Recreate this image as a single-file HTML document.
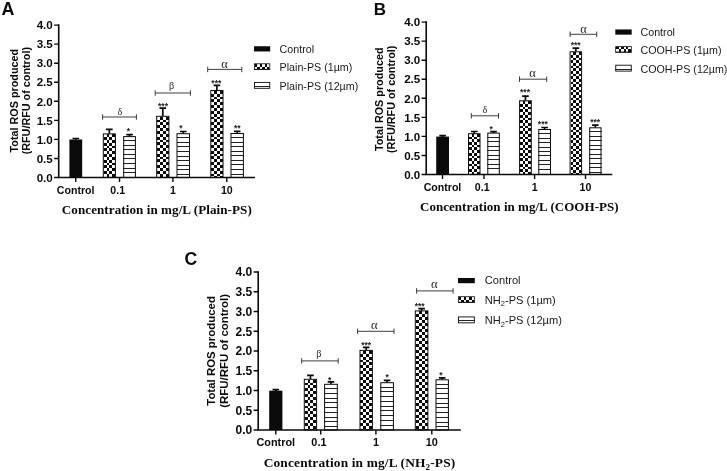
<!DOCTYPE html>
<html><head><meta charset="utf-8"><title>ROS figure</title>
<style>html,body{margin:0;padding:0;background:#fff;}svg{display:block;will-change:transform;}</style></head>
<body>
<svg width="727" height="471" viewBox="0 0 727 471">
<rect width="727" height="471" fill="#fff"/>
<g transform="translate(0 0.4)">
<rect x="69.40" y="139.10" width="12.80" height="38.00" fill="#0a0a0a"/>
<path d="M75.80 139.40V138.10M72.50 138.10H79.10" stroke="#0a0a0a" stroke-width="1.7" fill="none"/>
<rect x="102.80" y="133.00" width="13.10" height="44.10" fill="#fff"/>
<path d="M106.53 133.90H109.35V136.72H106.53ZM112.18 133.90H115.00V136.72H112.18ZM103.70 136.72H106.53V139.55H103.70ZM109.35 136.72H112.18V139.55H109.35ZM106.53 139.55H109.35V142.38H106.53ZM112.18 139.55H115.00V142.38H112.18ZM103.70 142.38H106.53V145.20H103.70ZM109.35 142.38H112.18V145.20H109.35ZM106.53 145.20H109.35V148.03H106.53ZM112.18 145.20H115.00V148.03H112.18ZM103.70 148.03H106.53V150.85H103.70ZM109.35 148.03H112.18V150.85H109.35ZM106.53 150.85H109.35V153.68H106.53ZM112.18 150.85H115.00V153.68H112.18ZM103.70 153.68H106.53V156.50H103.70ZM109.35 153.68H112.18V156.50H109.35ZM106.53 156.50H109.35V159.33H106.53ZM112.18 156.50H115.00V159.33H112.18ZM103.70 159.33H106.53V162.15H103.70ZM109.35 159.33H112.18V162.15H109.35ZM106.53 162.15H109.35V164.98H106.53ZM112.18 162.15H115.00V164.98H112.18ZM103.70 164.98H106.53V167.80H103.70ZM109.35 164.98H112.18V167.80H109.35ZM106.53 167.80H109.35V170.62H106.53ZM112.18 167.80H115.00V170.62H112.18ZM103.70 170.63H106.53V173.45H103.70ZM109.35 170.63H112.18V173.45H109.35ZM106.53 173.45H109.35V176.28H106.53ZM112.18 173.45H115.00V176.28H112.18ZM103.70 176.28H106.53V177.10H103.70ZM109.35 176.28H112.18V177.10H109.35Z" fill="#0a0a0a" shape-rendering="crispEdges"/>
<rect x="103.30" y="133.50" width="12.10" height="43.60" fill="none" stroke="#0a0a0a" stroke-width="1.0"/>
<path d="M109.35 133.30V129.00M106.05 129.00H112.65" stroke="#0a0a0a" stroke-width="1.7" fill="none"/>
<rect x="123.70" y="136.20" width="11.70" height="40.90" fill="#fff" stroke="#0a0a0a" stroke-width="1.0"/>
<path d="M123.20 140.35H135.90M123.20 144.90H135.90M123.20 149.45H135.90M123.20 154.00H135.90M123.20 158.55H135.90M123.20 163.10H135.90M123.20 167.65H135.90M123.20 172.20H135.90" stroke="#222" stroke-width="1.0" fill="none" shape-rendering="crispEdges"/>
<path d="M129.55 136.00V134.30M126.25 134.30H132.85" stroke="#0a0a0a" stroke-width="1.7" fill="none"/>
<rect x="156.20" y="115.40" width="13.20" height="61.70" fill="#fff"/>
<path d="M159.95 116.30H162.80V119.15H159.95ZM165.65 116.30H168.50V119.15H165.65ZM157.10 119.15H159.95V122.00H157.10ZM162.80 119.15H165.65V122.00H162.80ZM159.95 122.00H162.80V124.85H159.95ZM165.65 122.00H168.50V124.85H165.65ZM157.10 124.85H159.95V127.70H157.10ZM162.80 124.85H165.65V127.70H162.80ZM159.95 127.70H162.80V130.55H159.95ZM165.65 127.70H168.50V130.55H165.65ZM157.10 130.55H159.95V133.40H157.10ZM162.80 130.55H165.65V133.40H162.80ZM159.95 133.40H162.80V136.25H159.95ZM165.65 133.40H168.50V136.25H165.65ZM157.10 136.25H159.95V139.10H157.10ZM162.80 136.25H165.65V139.10H162.80ZM159.95 139.10H162.80V141.95H159.95ZM165.65 139.10H168.50V141.95H165.65ZM157.10 141.95H159.95V144.80H157.10ZM162.80 141.95H165.65V144.80H162.80ZM159.95 144.80H162.80V147.65H159.95ZM165.65 144.80H168.50V147.65H165.65ZM157.10 147.65H159.95V150.50H157.10ZM162.80 147.65H165.65V150.50H162.80ZM159.95 150.50H162.80V153.35H159.95ZM165.65 150.50H168.50V153.35H165.65ZM157.10 153.35H159.95V156.20H157.10ZM162.80 153.35H165.65V156.20H162.80ZM159.95 156.20H162.80V159.05H159.95ZM165.65 156.20H168.50V159.05H165.65ZM157.10 159.05H159.95V161.90H157.10ZM162.80 159.05H165.65V161.90H162.80ZM159.95 161.90H162.80V164.75H159.95ZM165.65 161.90H168.50V164.75H165.65ZM157.10 164.75H159.95V167.60H157.10ZM162.80 164.75H165.65V167.60H162.80ZM159.95 167.60H162.80V170.45H159.95ZM165.65 167.60H168.50V170.45H165.65ZM157.10 170.45H159.95V173.30H157.10ZM162.80 170.45H165.65V173.30H162.80ZM159.95 173.30H162.80V176.15H159.95ZM165.65 173.30H168.50V176.15H165.65ZM157.10 176.15H159.95V177.10H157.10ZM162.80 176.15H165.65V177.10H162.80Z" fill="#0a0a0a" shape-rendering="crispEdges"/>
<rect x="156.70" y="115.90" width="12.20" height="61.20" fill="none" stroke="#0a0a0a" stroke-width="1.0"/>
<path d="M162.80 115.70V107.80M159.50 107.80H166.10" stroke="#0a0a0a" stroke-width="1.7" fill="none"/>
<rect x="177.00" y="133.30" width="12.50" height="43.80" fill="#fff" stroke="#0a0a0a" stroke-width="1.0"/>
<path d="M176.50 137.45H190.00M176.50 142.00H190.00M176.50 146.55H190.00M176.50 151.10H190.00M176.50 155.65H190.00M176.50 160.20H190.00M176.50 164.75H190.00M176.50 169.30H190.00M176.50 173.85H190.00" stroke="#222" stroke-width="1.0" fill="none" shape-rendering="crispEdges"/>
<path d="M183.25 133.10V131.10M179.95 131.10H186.55" stroke="#0a0a0a" stroke-width="1.7" fill="none"/>
<rect x="210.30" y="89.60" width="13.20" height="87.50" fill="#fff"/>
<path d="M214.05 90.50H216.90V93.35H214.05ZM219.75 90.50H222.60V93.35H219.75ZM211.20 93.35H214.05V96.20H211.20ZM216.90 93.35H219.75V96.20H216.90ZM214.05 96.20H216.90V99.05H214.05ZM219.75 96.20H222.60V99.05H219.75ZM211.20 99.05H214.05V101.90H211.20ZM216.90 99.05H219.75V101.90H216.90ZM214.05 101.90H216.90V104.75H214.05ZM219.75 101.90H222.60V104.75H219.75ZM211.20 104.75H214.05V107.60H211.20ZM216.90 104.75H219.75V107.60H216.90ZM214.05 107.60H216.90V110.45H214.05ZM219.75 107.60H222.60V110.45H219.75ZM211.20 110.45H214.05V113.30H211.20ZM216.90 110.45H219.75V113.30H216.90ZM214.05 113.30H216.90V116.15H214.05ZM219.75 113.30H222.60V116.15H219.75ZM211.20 116.15H214.05V119.00H211.20ZM216.90 116.15H219.75V119.00H216.90ZM214.05 119.00H216.90V121.85H214.05ZM219.75 119.00H222.60V121.85H219.75ZM211.20 121.85H214.05V124.70H211.20ZM216.90 121.85H219.75V124.70H216.90ZM214.05 124.70H216.90V127.55H214.05ZM219.75 124.70H222.60V127.55H219.75ZM211.20 127.55H214.05V130.40H211.20ZM216.90 127.55H219.75V130.40H216.90ZM214.05 130.40H216.90V133.25H214.05ZM219.75 130.40H222.60V133.25H219.75ZM211.20 133.25H214.05V136.10H211.20ZM216.90 133.25H219.75V136.10H216.90ZM214.05 136.10H216.90V138.95H214.05ZM219.75 136.10H222.60V138.95H219.75ZM211.20 138.95H214.05V141.80H211.20ZM216.90 138.95H219.75V141.80H216.90ZM214.05 141.80H216.90V144.65H214.05ZM219.75 141.80H222.60V144.65H219.75ZM211.20 144.65H214.05V147.50H211.20ZM216.90 144.65H219.75V147.50H216.90ZM214.05 147.50H216.90V150.35H214.05ZM219.75 147.50H222.60V150.35H219.75ZM211.20 150.35H214.05V153.20H211.20ZM216.90 150.35H219.75V153.20H216.90ZM214.05 153.20H216.90V156.05H214.05ZM219.75 153.20H222.60V156.05H219.75ZM211.20 156.05H214.05V158.90H211.20ZM216.90 156.05H219.75V158.90H216.90ZM214.05 158.90H216.90V161.75H214.05ZM219.75 158.90H222.60V161.75H219.75ZM211.20 161.75H214.05V164.60H211.20ZM216.90 161.75H219.75V164.60H216.90ZM214.05 164.60H216.90V167.45H214.05ZM219.75 164.60H222.60V167.45H219.75ZM211.20 167.45H214.05V170.30H211.20ZM216.90 167.45H219.75V170.30H216.90ZM214.05 170.30H216.90V173.15H214.05ZM219.75 170.30H222.60V173.15H219.75ZM211.20 173.15H214.05V176.00H211.20ZM216.90 173.15H219.75V176.00H216.90ZM214.05 176.00H216.90V177.10H214.05ZM219.75 176.00H222.60V177.10H219.75Z" fill="#0a0a0a" shape-rendering="crispEdges"/>
<rect x="210.80" y="90.10" width="12.20" height="87.00" fill="none" stroke="#0a0a0a" stroke-width="1.0"/>
<path d="M216.90 89.90V85.00M213.60 85.00H220.20" stroke="#0a0a0a" stroke-width="1.7" fill="none"/>
<rect x="231.00" y="133.10" width="12.40" height="44.00" fill="#fff" stroke="#0a0a0a" stroke-width="1.0"/>
<path d="M230.50 137.25H243.90M230.50 141.80H243.90M230.50 146.35H243.90M230.50 150.90H243.90M230.50 155.45H243.90M230.50 160.00H243.90M230.50 164.55H243.90M230.50 169.10H243.90M230.50 173.65H243.90" stroke="#222" stroke-width="1.0" fill="none" shape-rendering="crispEdges"/>
<path d="M237.20 132.90V130.90M233.90 130.90H240.50" stroke="#0a0a0a" stroke-width="1.7" fill="none"/>
<path d="M58.70 23.90V177.90M57.90 177.10H255.00" stroke="#0a0a0a" stroke-width="1.6" fill="none"/>
<path d="M54.10 177.10H58.70M54.10 158.05H58.70M54.10 139.00H58.70M54.10 119.95H58.70M54.10 100.90H58.70M54.10 81.85H58.70M54.10 62.80H58.70M54.10 43.75H58.70M54.10 24.70H58.70M75.70 177.10V181.50M119.50 177.10V181.50M172.90 177.10V181.50M226.80 177.10V181.50" stroke="#0a0a0a" stroke-width="1.4" fill="none"/>
<text x="52.80" y="181.33" font-family='"Liberation Sans", sans-serif' font-size="11.6" font-weight="bold" text-anchor="end" fill="#0a0a0a" >0.0</text>
<text x="52.80" y="162.28" font-family='"Liberation Sans", sans-serif' font-size="11.6" font-weight="bold" text-anchor="end" fill="#0a0a0a" >0.5</text>
<text x="52.80" y="143.23" font-family='"Liberation Sans", sans-serif' font-size="11.6" font-weight="bold" text-anchor="end" fill="#0a0a0a" >1.0</text>
<text x="52.80" y="124.18" font-family='"Liberation Sans", sans-serif' font-size="11.6" font-weight="bold" text-anchor="end" fill="#0a0a0a" >1.5</text>
<text x="52.80" y="105.13" font-family='"Liberation Sans", sans-serif' font-size="11.6" font-weight="bold" text-anchor="end" fill="#0a0a0a" >2.0</text>
<text x="52.80" y="86.08" font-family='"Liberation Sans", sans-serif' font-size="11.6" font-weight="bold" text-anchor="end" fill="#0a0a0a" >2.5</text>
<text x="52.80" y="67.03" font-family='"Liberation Sans", sans-serif' font-size="11.6" font-weight="bold" text-anchor="end" fill="#0a0a0a" >3.0</text>
<text x="52.80" y="47.98" font-family='"Liberation Sans", sans-serif' font-size="11.6" font-weight="bold" text-anchor="end" fill="#0a0a0a" >3.5</text>
<text x="52.80" y="28.93" font-family='"Liberation Sans", sans-serif' font-size="11.6" font-weight="bold" text-anchor="end" fill="#0a0a0a" >4.0</text>
<text x="75.70" y="193.30" font-family='"Liberation Sans", sans-serif' font-size="10.6" font-weight="bold" text-anchor="middle" fill="#0a0a0a" >Control</text>
<text x="117.70" y="193.30" font-family='"Liberation Sans", sans-serif' font-size="10.6" font-weight="bold" text-anchor="middle" fill="#0a0a0a" >0.1</text>
<text x="172.90" y="193.30" font-family='"Liberation Sans", sans-serif' font-size="10.6" font-weight="bold" text-anchor="middle" fill="#0a0a0a" >1</text>
<text x="226.80" y="193.30" font-family='"Liberation Sans", sans-serif' font-size="10.6" font-weight="bold" text-anchor="middle" fill="#0a0a0a" >10</text>
<text x="128.30" y="134.00" font-family='"Liberation Sans", sans-serif' font-size="8.5" font-weight="bold" text-anchor="middle" fill="#222" >*</text>
<text x="163.00" y="108.20" font-family='"Liberation Sans", sans-serif' font-size="8.5" font-weight="bold" text-anchor="middle" fill="#222" >***</text>
<text x="180.80" y="130.80" font-family='"Liberation Sans", sans-serif' font-size="8.5" font-weight="bold" text-anchor="middle" fill="#222" >*</text>
<text x="216.30" y="85.50" font-family='"Liberation Sans", sans-serif' font-size="8.5" font-weight="bold" text-anchor="middle" fill="#222" >***</text>
<text x="237.20" y="130.40" font-family='"Liberation Sans", sans-serif' font-size="8.5" font-weight="bold" text-anchor="middle" fill="#222" >**</text>
<path d="M102.60 116.60H136.40M102.60 113.85V119.35M136.40 113.85V119.35" stroke="#2a2a2a" stroke-width="0.9" fill="none"/>
<text x="119.80" y="114.40" font-family='"Liberation Serif", serif' font-size="10.2" text-anchor="middle" fill="#2a2a2a">δ</text>
<path d="M155.20 92.60H190.40M155.20 89.85V95.35M190.40 89.85V95.35" stroke="#2a2a2a" stroke-width="0.9" fill="none"/>
<text x="171.50" y="88.80" font-family='"Liberation Serif", serif' font-size="10.2" text-anchor="middle" fill="#2a2a2a">β</text>
<path d="M207.70 69.00H241.80M207.70 66.25V71.75M241.80 66.25V71.75" stroke="#2a2a2a" stroke-width="0.9" fill="none"/>
<text x="224.60" y="67.50" font-family='"Liberation Serif", serif' font-size="12.4" text-anchor="middle" fill="#2a2a2a">α</text>
<text transform="translate(18.00 100.30) rotate(-90)" font-family='"Liberation Sans", sans-serif' font-size="10.8" font-weight="bold" text-anchor="middle" fill="#0a0a0a">Total ROS produced</text>
<text transform="translate(29.80 100.30) rotate(-90)" font-family='"Liberation Sans", sans-serif' font-size="10.8" font-weight="bold" text-anchor="middle" fill="#0a0a0a">(RFU/RFU of control)</text>
<text x="61.80" y="213.90" font-family='"Liberation Serif", serif' font-size="13.1" font-weight="bold" text-anchor="start" fill="#0a0a0a" textLength="190.0" lengthAdjust="spacing">Concentration in mg/L (Plain-PS)</text>
<text x="1.50" y="14.50" font-family='"Liberation Sans", sans-serif' font-size="17.8" font-weight="bold" text-anchor="start" fill="#0a0a0a" >A</text>
<rect x="254.00" y="45.85" width="16.20" height="5.2" fill="#0a0a0a"/>
<rect x="254.00" y="63.00" width="16.20" height="6.00" fill="#fff"/>
<path d="M254.72 63.72H257.18V66.18H254.72ZM259.64 63.72H262.10V66.18H259.64ZM264.56 63.72H267.02V66.18H264.56ZM257.18 66.18H259.64V68.64H257.18ZM262.10 66.18H264.56V68.64H262.10ZM267.02 66.18H269.48V68.64H267.02ZM254.72 68.64H257.18V69.00H254.72ZM259.64 68.64H262.10V69.00H259.64ZM264.56 68.64H267.02V69.00H264.56Z" fill="#0a0a0a" shape-rendering="crispEdges"/>
<rect x="254.40" y="63.40" width="15.40" height="5.60" fill="none" stroke="#0a0a0a" stroke-width="0.8"/>
<path d="M254.00 69.00H270.20" stroke="#0a0a0a" stroke-width="0.8"/>
<rect x="254.45" y="82.00" width="15.30" height="5.9" fill="#fff" stroke="#0a0a0a" stroke-width="0.9"/>
<path d="M254.00 85.90H270.20" stroke="#222" stroke-width="1" shape-rendering="crispEdges"/>
<text x="279.60" y="52.20" font-family='"Liberation Sans", sans-serif' font-size="10.7" text-anchor="start" fill="#1a1a1a">Control</text>
<text x="279.60" y="70.60" font-family='"Liberation Sans", sans-serif' font-size="10.7" text-anchor="start" fill="#1a1a1a">Plain-PS (1µm)</text>
<text x="279.60" y="89.40" font-family='"Liberation Sans", sans-serif' font-size="10.7" text-anchor="start" fill="#1a1a1a">Plain-PS (12µm)</text>
</g>
<g transform="translate(0 0.3)">
<rect x="436.20" y="136.30" width="12.80" height="37.90" fill="#0a0a0a"/>
<path d="M442.60 136.60V135.30M439.30 135.30H445.90" stroke="#0a0a0a" stroke-width="1.7" fill="none"/>
<rect x="468.00" y="132.90" width="12.50" height="41.30" fill="#fff"/>
<path d="M471.57 133.80H474.25V136.48H471.57ZM476.92 133.80H479.60V136.48H476.92ZM468.90 136.48H471.57V139.15H468.90ZM474.25 136.48H476.93V139.15H474.25ZM471.57 139.15H474.25V141.83H471.57ZM476.92 139.15H479.60V141.83H476.92ZM468.90 141.83H471.57V144.50H468.90ZM474.25 141.83H476.93V144.50H474.25ZM471.57 144.50H474.25V147.18H471.57ZM476.92 144.50H479.60V147.18H476.92ZM468.90 147.18H471.57V149.85H468.90ZM474.25 147.18H476.93V149.85H474.25ZM471.57 149.85H474.25V152.53H471.57ZM476.92 149.85H479.60V152.53H476.92ZM468.90 152.53H471.57V155.20H468.90ZM474.25 152.53H476.93V155.20H474.25ZM471.57 155.20H474.25V157.88H471.57ZM476.92 155.20H479.60V157.88H476.92ZM468.90 157.88H471.57V160.55H468.90ZM474.25 157.88H476.93V160.55H474.25ZM471.57 160.55H474.25V163.23H471.57ZM476.92 160.55H479.60V163.23H476.92ZM468.90 163.23H471.57V165.90H468.90ZM474.25 163.23H476.93V165.90H474.25ZM471.57 165.90H474.25V168.58H471.57ZM476.92 165.90H479.60V168.58H476.92ZM468.90 168.58H471.57V171.25H468.90ZM474.25 168.58H476.93V171.25H474.25ZM471.57 171.25H474.25V173.93H471.57ZM476.92 171.25H479.60V173.93H476.92ZM468.90 173.93H471.57V174.20H468.90ZM474.25 173.93H476.93V174.20H474.25Z" fill="#0a0a0a" shape-rendering="crispEdges"/>
<rect x="468.50" y="133.40" width="11.50" height="40.80" fill="none" stroke="#0a0a0a" stroke-width="1.0"/>
<path d="M474.25 133.20V131.20M470.95 131.20H477.55" stroke="#0a0a0a" stroke-width="1.7" fill="none"/>
<rect x="487.80" y="132.80" width="11.50" height="41.40" fill="#fff" stroke="#0a0a0a" stroke-width="1.0"/>
<path d="M487.30 136.88H499.80M487.30 141.36H499.80M487.30 145.84H499.80M487.30 150.32H499.80M487.30 154.80H499.80M487.30 159.28H499.80M487.30 163.76H499.80M487.30 168.24H499.80" stroke="#222" stroke-width="1.0" fill="none" shape-rendering="crispEdges"/>
<path d="M493.55 132.60V131.40M490.25 131.40H496.85" stroke="#0a0a0a" stroke-width="1.7" fill="none"/>
<rect x="519.10" y="100.00" width="12.70" height="74.20" fill="#fff"/>
<path d="M522.73 100.90H525.45V103.62H522.73ZM528.17 100.90H530.90V103.62H528.17ZM520.00 103.62H522.73V106.35H520.00ZM525.45 103.62H528.17V106.35H525.45ZM522.73 106.35H525.45V109.07H522.73ZM528.17 106.35H530.90V109.07H528.17ZM520.00 109.07H522.73V111.80H520.00ZM525.45 109.07H528.17V111.80H525.45ZM522.73 111.80H525.45V114.52H522.73ZM528.17 111.80H530.90V114.52H528.17ZM520.00 114.52H522.73V117.25H520.00ZM525.45 114.52H528.17V117.25H525.45ZM522.73 117.25H525.45V119.97H522.73ZM528.17 117.25H530.90V119.97H528.17ZM520.00 119.97H522.73V122.70H520.00ZM525.45 119.97H528.17V122.70H525.45ZM522.73 122.70H525.45V125.42H522.73ZM528.17 122.70H530.90V125.42H528.17ZM520.00 125.42H522.73V128.15H520.00ZM525.45 125.42H528.17V128.15H525.45ZM522.73 128.15H525.45V130.87H522.73ZM528.17 128.15H530.90V130.87H528.17ZM520.00 130.87H522.73V133.60H520.00ZM525.45 130.87H528.17V133.60H525.45ZM522.73 133.60H525.45V136.32H522.73ZM528.17 133.60H530.90V136.32H528.17ZM520.00 136.32H522.73V139.05H520.00ZM525.45 136.32H528.17V139.05H525.45ZM522.73 139.05H525.45V141.77H522.73ZM528.17 139.05H530.90V141.77H528.17ZM520.00 141.77H522.73V144.50H520.00ZM525.45 141.77H528.17V144.50H525.45ZM522.73 144.50H525.45V147.22H522.73ZM528.17 144.50H530.90V147.22H528.17ZM520.00 147.22H522.73V149.95H520.00ZM525.45 147.22H528.17V149.95H525.45ZM522.73 149.95H525.45V152.67H522.73ZM528.17 149.95H530.90V152.67H528.17ZM520.00 152.67H522.73V155.40H520.00ZM525.45 152.67H528.17V155.40H525.45ZM522.73 155.40H525.45V158.12H522.73ZM528.17 155.40H530.90V158.12H528.17ZM520.00 158.12H522.73V160.85H520.00ZM525.45 158.12H528.17V160.85H525.45ZM522.73 160.85H525.45V163.57H522.73ZM528.17 160.85H530.90V163.57H528.17ZM520.00 163.57H522.73V166.30H520.00ZM525.45 163.57H528.17V166.30H525.45ZM522.73 166.30H525.45V169.02H522.73ZM528.17 166.30H530.90V169.02H528.17ZM520.00 169.02H522.73V171.75H520.00ZM525.45 169.02H528.17V171.75H525.45ZM522.73 171.75H525.45V174.20H522.73ZM528.17 171.75H530.90V174.20H528.17Z" fill="#0a0a0a" shape-rendering="crispEdges"/>
<rect x="519.60" y="100.50" width="11.70" height="73.70" fill="none" stroke="#0a0a0a" stroke-width="1.0"/>
<path d="M525.45 100.30V95.90M522.15 95.90H528.75" stroke="#0a0a0a" stroke-width="1.7" fill="none"/>
<rect x="538.80" y="129.20" width="11.70" height="45.00" fill="#fff" stroke="#0a0a0a" stroke-width="1.0"/>
<path d="M538.30 133.28H551.00M538.30 137.76H551.00M538.30 142.24H551.00M538.30 146.72H551.00M538.30 151.20H551.00M538.30 155.68H551.00M538.30 160.16H551.00M538.30 164.64H551.00M538.30 169.12H551.00" stroke="#222" stroke-width="1.0" fill="none" shape-rendering="crispEdges"/>
<path d="M544.65 129.00V127.20M541.35 127.20H547.95" stroke="#0a0a0a" stroke-width="1.7" fill="none"/>
<rect x="569.60" y="51.00" width="12.50" height="123.20" fill="#fff"/>
<path d="M573.17 51.90H575.85V54.57H573.17ZM578.52 51.90H581.20V54.57H578.52ZM570.50 54.57H573.17V57.25H570.50ZM575.85 54.57H578.52V57.25H575.85ZM573.17 57.25H575.85V59.92H573.17ZM578.52 57.25H581.20V59.92H578.52ZM570.50 59.92H573.17V62.60H570.50ZM575.85 59.92H578.52V62.60H575.85ZM573.17 62.60H575.85V65.27H573.17ZM578.52 62.60H581.20V65.27H578.52ZM570.50 65.28H573.17V67.95H570.50ZM575.85 65.28H578.52V67.95H575.85ZM573.17 67.95H575.85V70.62H573.17ZM578.52 67.95H581.20V70.62H578.52ZM570.50 70.62H573.17V73.30H570.50ZM575.85 70.62H578.52V73.30H575.85ZM573.17 73.30H575.85V75.97H573.17ZM578.52 73.30H581.20V75.97H578.52ZM570.50 75.97H573.17V78.65H570.50ZM575.85 75.97H578.52V78.65H575.85ZM573.17 78.65H575.85V81.33H573.17ZM578.52 78.65H581.20V81.33H578.52ZM570.50 81.32H573.17V84.00H570.50ZM575.85 81.32H578.52V84.00H575.85ZM573.17 84.00H575.85V86.67H573.17ZM578.52 84.00H581.20V86.67H578.52ZM570.50 86.67H573.17V89.35H570.50ZM575.85 86.67H578.52V89.35H575.85ZM573.17 89.35H575.85V92.02H573.17ZM578.52 89.35H581.20V92.02H578.52ZM570.50 92.03H573.17V94.70H570.50ZM575.85 92.03H578.52V94.70H575.85ZM573.17 94.70H575.85V97.37H573.17ZM578.52 94.70H581.20V97.37H578.52ZM570.50 97.38H573.17V100.05H570.50ZM575.85 97.38H578.52V100.05H575.85ZM573.17 100.05H575.85V102.72H573.17ZM578.52 100.05H581.20V102.72H578.52ZM570.50 102.72H573.17V105.40H570.50ZM575.85 102.72H578.52V105.40H575.85ZM573.17 105.40H575.85V108.08H573.17ZM578.52 105.40H581.20V108.08H578.52ZM570.50 108.07H573.17V110.75H570.50ZM575.85 108.07H578.52V110.75H575.85ZM573.17 110.75H575.85V113.42H573.17ZM578.52 110.75H581.20V113.42H578.52ZM570.50 113.42H573.17V116.10H570.50ZM575.85 113.42H578.52V116.10H575.85ZM573.17 116.10H575.85V118.77H573.17ZM578.52 116.10H581.20V118.77H578.52ZM570.50 118.78H573.17V121.45H570.50ZM575.85 118.78H578.52V121.45H575.85ZM573.17 121.45H575.85V124.12H573.17ZM578.52 121.45H581.20V124.12H578.52ZM570.50 124.12H573.17V126.80H570.50ZM575.85 124.12H578.52V126.80H575.85ZM573.17 126.80H575.85V129.47H573.17ZM578.52 126.80H581.20V129.47H578.52ZM570.50 129.47H573.17V132.15H570.50ZM575.85 129.47H578.52V132.15H575.85ZM573.17 132.15H575.85V134.83H573.17ZM578.52 132.15H581.20V134.83H578.52ZM570.50 134.82H573.17V137.50H570.50ZM575.85 134.82H578.52V137.50H575.85ZM573.17 137.50H575.85V140.18H573.17ZM578.52 137.50H581.20V140.18H578.52ZM570.50 140.17H573.17V142.85H570.50ZM575.85 140.17H578.52V142.85H575.85ZM573.17 142.85H575.85V145.53H573.17ZM578.52 142.85H581.20V145.53H578.52ZM570.50 145.53H573.17V148.20H570.50ZM575.85 145.53H578.52V148.20H575.85ZM573.17 148.20H575.85V150.88H573.17ZM578.52 148.20H581.20V150.88H578.52ZM570.50 150.88H573.17V153.55H570.50ZM575.85 150.88H578.52V153.55H575.85ZM573.17 153.55H575.85V156.22H573.17ZM578.52 153.55H581.20V156.22H578.52ZM570.50 156.22H573.17V158.90H570.50ZM575.85 156.22H578.52V158.90H575.85ZM573.17 158.90H575.85V161.58H573.17ZM578.52 158.90H581.20V161.58H578.52ZM570.50 161.57H573.17V164.25H570.50ZM575.85 161.57H578.52V164.25H575.85ZM573.17 164.25H575.85V166.93H573.17ZM578.52 164.25H581.20V166.93H578.52ZM570.50 166.92H573.17V169.60H570.50ZM575.85 166.92H578.52V169.60H575.85ZM573.17 169.60H575.85V172.28H573.17ZM578.52 169.60H581.20V172.28H578.52ZM570.50 172.27H573.17V174.20H570.50ZM575.85 172.27H578.52V174.20H575.85Z" fill="#0a0a0a" shape-rendering="crispEdges"/>
<rect x="570.10" y="51.50" width="11.50" height="122.70" fill="none" stroke="#0a0a0a" stroke-width="1.0"/>
<path d="M575.85 51.30V47.80M572.55 47.80H579.15" stroke="#0a0a0a" stroke-width="1.7" fill="none"/>
<rect x="589.70" y="127.50" width="11.30" height="46.70" fill="#fff" stroke="#0a0a0a" stroke-width="1.0"/>
<path d="M589.20 131.58H601.50M589.20 136.06H601.50M589.20 140.54H601.50M589.20 145.02H601.50M589.20 149.50H601.50M589.20 153.98H601.50M589.20 158.46H601.50M589.20 162.94H601.50M589.20 167.42H601.50M589.20 171.90H601.50" stroke="#222" stroke-width="1.0" fill="none" shape-rendering="crispEdges"/>
<path d="M595.35 127.30V124.90M592.05 124.90H598.65" stroke="#0a0a0a" stroke-width="1.7" fill="none"/>
<path d="M426.20 21.00V175.00M425.40 174.20H612.30" stroke="#0a0a0a" stroke-width="1.6" fill="none"/>
<path d="M421.60 174.20H426.20M421.60 155.15H426.20M421.60 136.10H426.20M421.60 117.05H426.20M421.60 98.00H426.20M421.60 78.95H426.20M421.60 59.90H426.20M421.60 40.85H426.20M421.60 21.80H426.20M442.50 174.20V178.60M484.00 174.20V178.60M534.60 174.20V178.60M585.50 174.20V178.60" stroke="#0a0a0a" stroke-width="1.4" fill="none"/>
<text x="420.30" y="178.43" font-family='"Liberation Sans", sans-serif' font-size="11.6" font-weight="bold" text-anchor="end" fill="#0a0a0a" >0.0</text>
<text x="420.30" y="159.38" font-family='"Liberation Sans", sans-serif' font-size="11.6" font-weight="bold" text-anchor="end" fill="#0a0a0a" >0.5</text>
<text x="420.30" y="140.33" font-family='"Liberation Sans", sans-serif' font-size="11.6" font-weight="bold" text-anchor="end" fill="#0a0a0a" >1.0</text>
<text x="420.30" y="121.28" font-family='"Liberation Sans", sans-serif' font-size="11.6" font-weight="bold" text-anchor="end" fill="#0a0a0a" >1.5</text>
<text x="420.30" y="102.23" font-family='"Liberation Sans", sans-serif' font-size="11.6" font-weight="bold" text-anchor="end" fill="#0a0a0a" >2.0</text>
<text x="420.30" y="83.18" font-family='"Liberation Sans", sans-serif' font-size="11.6" font-weight="bold" text-anchor="end" fill="#0a0a0a" >2.5</text>
<text x="420.30" y="64.13" font-family='"Liberation Sans", sans-serif' font-size="11.6" font-weight="bold" text-anchor="end" fill="#0a0a0a" >3.0</text>
<text x="420.30" y="45.08" font-family='"Liberation Sans", sans-serif' font-size="11.6" font-weight="bold" text-anchor="end" fill="#0a0a0a" >3.5</text>
<text x="420.30" y="26.03" font-family='"Liberation Sans", sans-serif' font-size="11.6" font-weight="bold" text-anchor="end" fill="#0a0a0a" >4.0</text>
<text x="442.50" y="190.40" font-family='"Liberation Sans", sans-serif' font-size="10.6" font-weight="bold" text-anchor="middle" fill="#0a0a0a" >Control</text>
<text x="482.20" y="190.40" font-family='"Liberation Sans", sans-serif' font-size="10.6" font-weight="bold" text-anchor="middle" fill="#0a0a0a" >0.1</text>
<text x="534.60" y="190.40" font-family='"Liberation Sans", sans-serif' font-size="10.6" font-weight="bold" text-anchor="middle" fill="#0a0a0a" >1</text>
<text x="585.50" y="190.40" font-family='"Liberation Sans", sans-serif' font-size="10.6" font-weight="bold" text-anchor="middle" fill="#0a0a0a" >10</text>
<text x="491.20" y="131.90" font-family='"Liberation Sans", sans-serif' font-size="8.5" font-weight="bold" text-anchor="middle" fill="#222" >*</text>
<text x="525.00" y="94.70" font-family='"Liberation Sans", sans-serif' font-size="8.5" font-weight="bold" text-anchor="middle" fill="#222" >***</text>
<text x="542.80" y="126.80" font-family='"Liberation Sans", sans-serif' font-size="8.5" font-weight="bold" text-anchor="middle" fill="#222" >***</text>
<text x="575.60" y="47.30" font-family='"Liberation Sans", sans-serif' font-size="8.5" font-weight="bold" text-anchor="middle" fill="#222" >***</text>
<text x="595.20" y="124.70" font-family='"Liberation Sans", sans-serif' font-size="8.5" font-weight="bold" text-anchor="middle" fill="#222" >***</text>
<path d="M471.30 115.50H498.50M471.30 112.75V118.25M498.50 112.75V118.25" stroke="#2a2a2a" stroke-width="0.9" fill="none"/>
<text x="484.90" y="112.50" font-family='"Liberation Serif", serif' font-size="10.2" text-anchor="middle" fill="#2a2a2a">δ</text>
<path d="M519.50 78.90H546.70M519.50 76.15V81.65M546.70 76.15V81.65" stroke="#2a2a2a" stroke-width="0.9" fill="none"/>
<text x="532.50" y="77.00" font-family='"Liberation Serif", serif' font-size="12.4" text-anchor="middle" fill="#2a2a2a">α</text>
<path d="M570.10 34.00H596.70M570.10 31.25V36.75M596.70 31.25V36.75" stroke="#2a2a2a" stroke-width="0.9" fill="none"/>
<text x="583.40" y="32.30" font-family='"Liberation Serif", serif' font-size="12.4" text-anchor="middle" fill="#2a2a2a">α</text>
<text transform="translate(382.80 99.00) rotate(-90)" font-family='"Liberation Sans", sans-serif' font-size="10.8" font-weight="bold" text-anchor="middle" fill="#0a0a0a">Total ROS produced</text>
<text transform="translate(395.00 99.00) rotate(-90)" font-family='"Liberation Sans", sans-serif' font-size="10.8" font-weight="bold" text-anchor="middle" fill="#0a0a0a">(RFU/RFU of control)</text>
<text x="420.00" y="211.00" font-family='"Liberation Serif", serif' font-size="13.0" font-weight="bold" text-anchor="start" fill="#0a0a0a" textLength="198.6" lengthAdjust="spacing">Concentration in mg/L (COOH-PS)</text>
<text x="373.70" y="14.90" font-family='"Liberation Sans", sans-serif' font-size="17.0" font-weight="bold" text-anchor="start" fill="#0a0a0a" >B</text>
<rect x="615.30" y="29.15" width="16.40" height="5.2" fill="#0a0a0a"/>
<rect x="615.30" y="45.90" width="16.40" height="6.00" fill="#fff"/>
<path d="M616.02 46.62H618.51V49.11H616.02ZM621.01 46.62H623.50V49.11H621.01ZM625.99 46.62H628.49V49.11H625.99ZM618.51 49.11H621.01V51.61H618.51ZM623.50 49.11H625.99V51.61H623.50ZM628.49 49.11H630.98V51.61H628.49ZM616.02 51.61H618.51V51.90H616.02ZM621.01 51.61H623.50V51.90H621.01ZM625.99 51.61H628.49V51.90H625.99Z" fill="#0a0a0a" shape-rendering="crispEdges"/>
<rect x="615.70" y="46.30" width="15.60" height="5.60" fill="none" stroke="#0a0a0a" stroke-width="0.8"/>
<path d="M615.30 51.90H631.70" stroke="#0a0a0a" stroke-width="0.8"/>
<rect x="615.75" y="64.90" width="15.50" height="5.9" fill="#fff" stroke="#0a0a0a" stroke-width="0.9"/>
<path d="M615.30 68.80H631.70" stroke="#222" stroke-width="1" shape-rendering="crispEdges"/>
<text x="640.50" y="35.50" font-family='"Liberation Sans", sans-serif' font-size="10.7" text-anchor="start" fill="#1a1a1a">Control</text>
<text x="640.50" y="53.50" font-family='"Liberation Sans", sans-serif' font-size="10.7" text-anchor="start" fill="#1a1a1a">COOH-PS (1µm)</text>
<text x="640.50" y="72.30" font-family='"Liberation Sans", sans-serif' font-size="10.7" text-anchor="start" fill="#1a1a1a">COOH-PS (12µm)</text>
</g>
<g transform="translate(0 0.3)">
<rect x="269.20" y="390.40" width="13.20" height="39.30" fill="#0a0a0a"/>
<path d="M275.80 390.70V389.30M272.50 389.30H279.10" stroke="#0a0a0a" stroke-width="1.7" fill="none"/>
<rect x="303.80" y="378.50" width="13.30" height="51.20" fill="#fff"/>
<path d="M307.57 379.40H310.45V382.27H307.57ZM313.32 379.40H316.20V382.27H313.32ZM304.70 382.27H307.57V385.15H304.70ZM310.45 382.27H313.32V385.15H310.45ZM307.57 385.15H310.45V388.02H307.57ZM313.32 385.15H316.20V388.02H313.32ZM304.70 388.02H307.57V390.90H304.70ZM310.45 388.02H313.32V390.90H310.45ZM307.57 390.90H310.45V393.77H307.57ZM313.32 390.90H316.20V393.77H313.32ZM304.70 393.77H307.57V396.65H304.70ZM310.45 393.77H313.32V396.65H310.45ZM307.57 396.65H310.45V399.52H307.57ZM313.32 396.65H316.20V399.52H313.32ZM304.70 399.52H307.57V402.40H304.70ZM310.45 399.52H313.32V402.40H310.45ZM307.57 402.40H310.45V405.27H307.57ZM313.32 402.40H316.20V405.27H313.32ZM304.70 405.27H307.57V408.15H304.70ZM310.45 405.27H313.32V408.15H310.45ZM307.57 408.15H310.45V411.02H307.57ZM313.32 408.15H316.20V411.02H313.32ZM304.70 411.02H307.57V413.90H304.70ZM310.45 411.02H313.32V413.90H310.45ZM307.57 413.90H310.45V416.77H307.57ZM313.32 413.90H316.20V416.77H313.32ZM304.70 416.78H307.57V419.65H304.70ZM310.45 416.78H313.32V419.65H310.45ZM307.57 419.65H310.45V422.53H307.57ZM313.32 419.65H316.20V422.53H313.32ZM304.70 422.53H307.57V425.40H304.70ZM310.45 422.53H313.32V425.40H310.45ZM307.57 425.40H310.45V428.28H307.57ZM313.32 425.40H316.20V428.28H313.32ZM304.70 428.28H307.57V429.70H304.70ZM310.45 428.28H313.32V429.70H310.45Z" fill="#0a0a0a" shape-rendering="crispEdges"/>
<rect x="304.30" y="379.00" width="12.30" height="50.70" fill="none" stroke="#0a0a0a" stroke-width="1.0"/>
<path d="M310.45 378.80V375.00M307.15 375.00H313.75" stroke="#0a0a0a" stroke-width="1.7" fill="none"/>
<rect x="324.60" y="384.00" width="12.70" height="45.70" fill="#fff" stroke="#0a0a0a" stroke-width="1.0"/>
<path d="M324.10 388.35H337.80M324.10 393.10H337.80M324.10 397.85H337.80M324.10 402.60H337.80M324.10 407.35H337.80M324.10 412.10H337.80M324.10 416.85H337.80M324.10 421.60H337.80M324.10 426.35H337.80" stroke="#222" stroke-width="1.0" fill="none" shape-rendering="crispEdges"/>
<path d="M330.95 383.80V381.50M327.65 381.50H334.25" stroke="#0a0a0a" stroke-width="1.7" fill="none"/>
<rect x="359.50" y="349.60" width="13.40" height="80.10" fill="#fff"/>
<path d="M363.30 350.50H366.20V353.40H363.30ZM369.10 350.50H372.00V353.40H369.10ZM360.40 353.40H363.30V356.30H360.40ZM366.20 353.40H369.10V356.30H366.20ZM363.30 356.30H366.20V359.20H363.30ZM369.10 356.30H372.00V359.20H369.10ZM360.40 359.20H363.30V362.10H360.40ZM366.20 359.20H369.10V362.10H366.20ZM363.30 362.10H366.20V365.00H363.30ZM369.10 362.10H372.00V365.00H369.10ZM360.40 365.00H363.30V367.90H360.40ZM366.20 365.00H369.10V367.90H366.20ZM363.30 367.90H366.20V370.80H363.30ZM369.10 367.90H372.00V370.80H369.10ZM360.40 370.80H363.30V373.70H360.40ZM366.20 370.80H369.10V373.70H366.20ZM363.30 373.70H366.20V376.60H363.30ZM369.10 373.70H372.00V376.60H369.10ZM360.40 376.60H363.30V379.50H360.40ZM366.20 376.60H369.10V379.50H366.20ZM363.30 379.50H366.20V382.40H363.30ZM369.10 379.50H372.00V382.40H369.10ZM360.40 382.40H363.30V385.30H360.40ZM366.20 382.40H369.10V385.30H366.20ZM363.30 385.30H366.20V388.20H363.30ZM369.10 385.30H372.00V388.20H369.10ZM360.40 388.20H363.30V391.10H360.40ZM366.20 388.20H369.10V391.10H366.20ZM363.30 391.10H366.20V394.00H363.30ZM369.10 391.10H372.00V394.00H369.10ZM360.40 394.00H363.30V396.90H360.40ZM366.20 394.00H369.10V396.90H366.20ZM363.30 396.90H366.20V399.80H363.30ZM369.10 396.90H372.00V399.80H369.10ZM360.40 399.80H363.30V402.70H360.40ZM366.20 399.80H369.10V402.70H366.20ZM363.30 402.70H366.20V405.60H363.30ZM369.10 402.70H372.00V405.60H369.10ZM360.40 405.60H363.30V408.50H360.40ZM366.20 405.60H369.10V408.50H366.20ZM363.30 408.50H366.20V411.40H363.30ZM369.10 408.50H372.00V411.40H369.10ZM360.40 411.40H363.30V414.30H360.40ZM366.20 411.40H369.10V414.30H366.20ZM363.30 414.30H366.20V417.20H363.30ZM369.10 414.30H372.00V417.20H369.10ZM360.40 417.20H363.30V420.10H360.40ZM366.20 417.20H369.10V420.10H366.20ZM363.30 420.10H366.20V423.00H363.30ZM369.10 420.10H372.00V423.00H369.10ZM360.40 423.00H363.30V425.90H360.40ZM366.20 423.00H369.10V425.90H366.20ZM363.30 425.90H366.20V428.80H363.30ZM369.10 425.90H372.00V428.80H369.10ZM360.40 428.80H363.30V429.70H360.40ZM366.20 428.80H369.10V429.70H366.20Z" fill="#0a0a0a" shape-rendering="crispEdges"/>
<rect x="360.00" y="350.10" width="12.40" height="79.60" fill="none" stroke="#0a0a0a" stroke-width="1.0"/>
<path d="M366.20 349.90V347.00M362.90 347.00H369.50" stroke="#0a0a0a" stroke-width="1.7" fill="none"/>
<rect x="380.80" y="382.40" width="12.60" height="47.30" fill="#fff" stroke="#0a0a0a" stroke-width="1.0"/>
<path d="M380.30 386.75H393.90M380.30 391.50H393.90M380.30 396.25H393.90M380.30 401.00H393.90M380.30 405.75H393.90M380.30 410.50H393.90M380.30 415.25H393.90M380.30 420.00H393.90M380.30 424.75H393.90" stroke="#222" stroke-width="1.0" fill="none" shape-rendering="crispEdges"/>
<path d="M387.10 382.20V380.10M383.80 380.10H390.40" stroke="#0a0a0a" stroke-width="1.7" fill="none"/>
<rect x="414.80" y="310.10" width="13.60" height="119.60" fill="#fff"/>
<path d="M418.65 311.00H421.60V313.95H418.65ZM424.55 311.00H427.50V313.95H424.55ZM415.70 313.95H418.65V316.90H415.70ZM421.60 313.95H424.55V316.90H421.60ZM418.65 316.90H421.60V319.85H418.65ZM424.55 316.90H427.50V319.85H424.55ZM415.70 319.85H418.65V322.80H415.70ZM421.60 319.85H424.55V322.80H421.60ZM418.65 322.80H421.60V325.75H418.65ZM424.55 322.80H427.50V325.75H424.55ZM415.70 325.75H418.65V328.70H415.70ZM421.60 325.75H424.55V328.70H421.60ZM418.65 328.70H421.60V331.65H418.65ZM424.55 328.70H427.50V331.65H424.55ZM415.70 331.65H418.65V334.60H415.70ZM421.60 331.65H424.55V334.60H421.60ZM418.65 334.60H421.60V337.55H418.65ZM424.55 334.60H427.50V337.55H424.55ZM415.70 337.55H418.65V340.50H415.70ZM421.60 337.55H424.55V340.50H421.60ZM418.65 340.50H421.60V343.45H418.65ZM424.55 340.50H427.50V343.45H424.55ZM415.70 343.45H418.65V346.40H415.70ZM421.60 343.45H424.55V346.40H421.60ZM418.65 346.40H421.60V349.35H418.65ZM424.55 346.40H427.50V349.35H424.55ZM415.70 349.35H418.65V352.30H415.70ZM421.60 349.35H424.55V352.30H421.60ZM418.65 352.30H421.60V355.25H418.65ZM424.55 352.30H427.50V355.25H424.55ZM415.70 355.25H418.65V358.20H415.70ZM421.60 355.25H424.55V358.20H421.60ZM418.65 358.20H421.60V361.15H418.65ZM424.55 358.20H427.50V361.15H424.55ZM415.70 361.15H418.65V364.10H415.70ZM421.60 361.15H424.55V364.10H421.60ZM418.65 364.10H421.60V367.05H418.65ZM424.55 364.10H427.50V367.05H424.55ZM415.70 367.05H418.65V370.00H415.70ZM421.60 367.05H424.55V370.00H421.60ZM418.65 370.00H421.60V372.95H418.65ZM424.55 370.00H427.50V372.95H424.55ZM415.70 372.95H418.65V375.90H415.70ZM421.60 372.95H424.55V375.90H421.60ZM418.65 375.90H421.60V378.85H418.65ZM424.55 375.90H427.50V378.85H424.55ZM415.70 378.85H418.65V381.80H415.70ZM421.60 378.85H424.55V381.80H421.60ZM418.65 381.80H421.60V384.75H418.65ZM424.55 381.80H427.50V384.75H424.55ZM415.70 384.75H418.65V387.70H415.70ZM421.60 384.75H424.55V387.70H421.60ZM418.65 387.70H421.60V390.65H418.65ZM424.55 387.70H427.50V390.65H424.55ZM415.70 390.65H418.65V393.60H415.70ZM421.60 390.65H424.55V393.60H421.60ZM418.65 393.60H421.60V396.55H418.65ZM424.55 393.60H427.50V396.55H424.55ZM415.70 396.55H418.65V399.50H415.70ZM421.60 396.55H424.55V399.50H421.60ZM418.65 399.50H421.60V402.45H418.65ZM424.55 399.50H427.50V402.45H424.55ZM415.70 402.45H418.65V405.40H415.70ZM421.60 402.45H424.55V405.40H421.60ZM418.65 405.40H421.60V408.35H418.65ZM424.55 405.40H427.50V408.35H424.55ZM415.70 408.35H418.65V411.30H415.70ZM421.60 408.35H424.55V411.30H421.60ZM418.65 411.30H421.60V414.25H418.65ZM424.55 411.30H427.50V414.25H424.55ZM415.70 414.25H418.65V417.20H415.70ZM421.60 414.25H424.55V417.20H421.60ZM418.65 417.20H421.60V420.15H418.65ZM424.55 417.20H427.50V420.15H424.55ZM415.70 420.15H418.65V423.10H415.70ZM421.60 420.15H424.55V423.10H421.60ZM418.65 423.10H421.60V426.05H418.65ZM424.55 423.10H427.50V426.05H424.55ZM415.70 426.05H418.65V429.00H415.70ZM421.60 426.05H424.55V429.00H421.60ZM418.65 429.00H421.60V429.70H418.65ZM424.55 429.00H427.50V429.70H424.55Z" fill="#0a0a0a" shape-rendering="crispEdges"/>
<rect x="415.30" y="310.60" width="12.60" height="119.10" fill="none" stroke="#0a0a0a" stroke-width="1.0"/>
<path d="M421.60 310.40V308.40M418.30 308.40H424.90" stroke="#0a0a0a" stroke-width="1.7" fill="none"/>
<rect x="436.00" y="379.50" width="12.40" height="50.20" fill="#fff" stroke="#0a0a0a" stroke-width="1.0"/>
<path d="M435.50 383.85H448.90M435.50 388.60H448.90M435.50 393.35H448.90M435.50 398.10H448.90M435.50 402.85H448.90M435.50 407.60H448.90M435.50 412.35H448.90M435.50 417.10H448.90M435.50 421.85H448.90M435.50 426.60H448.90" stroke="#222" stroke-width="1.0" fill="none" shape-rendering="crispEdges"/>
<path d="M442.20 379.30V377.60M438.90 377.60H445.50" stroke="#0a0a0a" stroke-width="1.7" fill="none"/>
<path d="M258.20 270.90V430.50M257.40 429.70H460.80" stroke="#0a0a0a" stroke-width="1.6" fill="none"/>
<path d="M253.60 429.70H258.20M253.60 409.95H258.20M253.60 390.20H258.20M253.60 370.45H258.20M253.60 350.70H258.20M253.60 330.95H258.20M253.60 311.20H258.20M253.60 291.45H258.20M253.60 271.70H258.20M275.80 429.70V434.10M320.70 429.70V434.10M375.90 429.70V434.10M431.80 429.70V434.10" stroke="#0a0a0a" stroke-width="1.4" fill="none"/>
<text x="252.30" y="434.08" font-family='"Liberation Sans", sans-serif' font-size="12.0" font-weight="bold" text-anchor="end" fill="#0a0a0a" >0.0</text>
<text x="252.30" y="414.33" font-family='"Liberation Sans", sans-serif' font-size="12.0" font-weight="bold" text-anchor="end" fill="#0a0a0a" >0.5</text>
<text x="252.30" y="394.58" font-family='"Liberation Sans", sans-serif' font-size="12.0" font-weight="bold" text-anchor="end" fill="#0a0a0a" >1.0</text>
<text x="252.30" y="374.83" font-family='"Liberation Sans", sans-serif' font-size="12.0" font-weight="bold" text-anchor="end" fill="#0a0a0a" >1.5</text>
<text x="252.30" y="355.08" font-family='"Liberation Sans", sans-serif' font-size="12.0" font-weight="bold" text-anchor="end" fill="#0a0a0a" >2.0</text>
<text x="252.30" y="335.33" font-family='"Liberation Sans", sans-serif' font-size="12.0" font-weight="bold" text-anchor="end" fill="#0a0a0a" >2.5</text>
<text x="252.30" y="315.58" font-family='"Liberation Sans", sans-serif' font-size="12.0" font-weight="bold" text-anchor="end" fill="#0a0a0a" >3.0</text>
<text x="252.30" y="295.83" font-family='"Liberation Sans", sans-serif' font-size="12.0" font-weight="bold" text-anchor="end" fill="#0a0a0a" >3.5</text>
<text x="252.30" y="276.08" font-family='"Liberation Sans", sans-serif' font-size="12.0" font-weight="bold" text-anchor="end" fill="#0a0a0a" >4.0</text>
<text x="275.80" y="445.90" font-family='"Liberation Sans", sans-serif' font-size="10.85" font-weight="bold" text-anchor="middle" fill="#0a0a0a" >Control</text>
<text x="318.90" y="445.90" font-family='"Liberation Sans", sans-serif' font-size="10.85" font-weight="bold" text-anchor="middle" fill="#0a0a0a" >0.1</text>
<text x="375.90" y="445.90" font-family='"Liberation Sans", sans-serif' font-size="10.85" font-weight="bold" text-anchor="middle" fill="#0a0a0a" >1</text>
<text x="431.80" y="445.90" font-family='"Liberation Sans", sans-serif' font-size="10.85" font-weight="bold" text-anchor="middle" fill="#0a0a0a" >10</text>
<text x="329.60" y="382.40" font-family='"Liberation Sans", sans-serif' font-size="8.5" font-weight="bold" text-anchor="middle" fill="#222" >*</text>
<text x="366.20" y="347.40" font-family='"Liberation Sans", sans-serif' font-size="8.5" font-weight="bold" text-anchor="middle" fill="#222" >***</text>
<text x="387.10" y="379.30" font-family='"Liberation Sans", sans-serif' font-size="8.5" font-weight="bold" text-anchor="middle" fill="#222" >*</text>
<text x="419.70" y="308.90" font-family='"Liberation Sans", sans-serif' font-size="8.5" font-weight="bold" text-anchor="middle" fill="#222" >***</text>
<text x="441.00" y="378.20" font-family='"Liberation Sans", sans-serif' font-size="8.5" font-weight="bold" text-anchor="middle" fill="#222" >*</text>
<path d="M301.70 360.60H338.20M301.70 357.85V363.35M338.20 357.85V363.35" stroke="#2a2a2a" stroke-width="0.9" fill="none"/>
<text x="318.90" y="356.80" font-family='"Liberation Serif", serif' font-size="10.2" text-anchor="middle" fill="#2a2a2a">β</text>
<path d="M357.60 331.00H394.00M357.60 328.25V333.75M394.00 328.25V333.75" stroke="#2a2a2a" stroke-width="0.9" fill="none"/>
<text x="374.20" y="328.60" font-family='"Liberation Serif", serif' font-size="12.6" text-anchor="middle" fill="#2a2a2a">α</text>
<path d="M416.60 290.60H453.10M416.60 287.85V293.35M453.10 287.85V293.35" stroke="#2a2a2a" stroke-width="0.9" fill="none"/>
<text x="434.40" y="288.20" font-family='"Liberation Serif", serif' font-size="12.6" text-anchor="middle" fill="#2a2a2a">α</text>
<text transform="translate(214.50 350.60) rotate(-90)" font-family='"Liberation Sans", sans-serif' font-size="11.45" font-weight="bold" text-anchor="middle" fill="#0a0a0a">Total ROS produced</text>
<text transform="translate(228.20 350.60) rotate(-90)" font-family='"Liberation Sans", sans-serif' font-size="11.45" font-weight="bold" text-anchor="middle" fill="#0a0a0a">(RFU/RFU of control)</text>
<text x="263.70" y="467.20" font-family='"Liberation Serif", serif' font-size="13.4" font-weight="bold" text-anchor="start" fill="#0a0a0a" textLength="191.5" lengthAdjust="spacing">Concentration in mg/L (NH<tspan font-size="9" dy="2.5">2</tspan><tspan dy="-2.5">-PS)</tspan></text>
<text x="184.60" y="265.20" font-family='"Liberation Sans", sans-serif' font-size="17.6" font-weight="bold" text-anchor="start" fill="#0a0a0a" >C</text>
<rect x="458.00" y="277.70" width="16.80" height="5.2" fill="#0a0a0a"/>
<rect x="458.00" y="296.02" width="16.80" height="6.00" fill="#fff"/>
<path d="M458.72 296.74H461.28V299.30H458.72ZM463.84 296.74H466.40V299.30H463.84ZM468.96 296.74H471.52V299.30H468.96ZM461.28 299.30H463.84V301.86H461.28ZM466.40 299.30H468.96V301.86H466.40ZM471.52 299.30H474.08V301.86H471.52ZM458.72 301.86H461.28V302.02H458.72ZM463.84 301.86H466.40V302.02H463.84ZM468.96 301.86H471.52V302.02H468.96Z" fill="#0a0a0a" shape-rendering="crispEdges"/>
<rect x="458.40" y="296.42" width="16.00" height="5.60" fill="none" stroke="#0a0a0a" stroke-width="0.8"/>
<path d="M458.00 302.02H474.80" stroke="#0a0a0a" stroke-width="0.8"/>
<rect x="458.45" y="316.62" width="15.90" height="5.9" fill="#fff" stroke="#0a0a0a" stroke-width="0.9"/>
<path d="M458.00 320.52H474.80" stroke="#222" stroke-width="1" shape-rendering="crispEdges"/>
<text x="484.80" y="284.20" font-family='"Liberation Sans", sans-serif' font-size="11.1" text-anchor="start" fill="#1a1a1a">Control</text>
<text x="484.80" y="303.80" font-family='"Liberation Sans", sans-serif' font-size="11.1" text-anchor="start" fill="#1a1a1a">NH<tspan font-size="7.5" dy="2.2">2</tspan><tspan dy="-2.2">-PS (1µm)</tspan></text>
<text x="484.80" y="324.20" font-family='"Liberation Sans", sans-serif' font-size="11.1" text-anchor="start" fill="#1a1a1a">NH<tspan font-size="7.5" dy="2.2">2</tspan><tspan dy="-2.2">-PS (12µm)</tspan></text>
</g>
</svg>
</body></html>
